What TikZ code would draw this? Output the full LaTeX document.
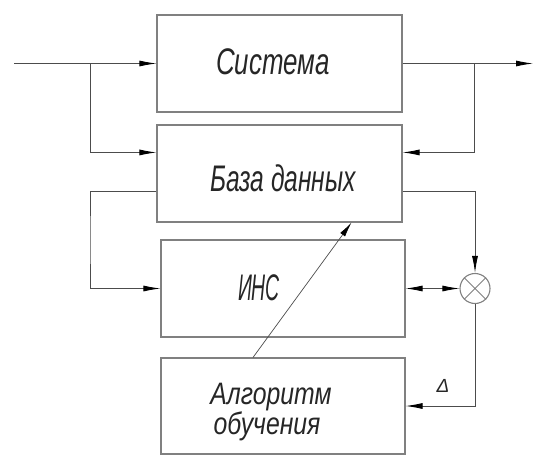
\documentclass[tikz,border=0pt]{standalone}
\usepackage{fontspec}
\newfontfamily\gost[FakeStretch=0.7]{Liberation Sans}
\newfontfamily\gostB[FakeStretch=0.8]{Liberation Sans}
\newfontfamily\gostD{Liberation Sans}
\usetikzlibrary{arrows.meta}
\begin{document}
\begin{tikzpicture}[x=1pt,y=-1pt,
  box/.style={draw=black!50, line width=1.1pt, minimum width=245pt, minimum height=97pt, inner sep=0pt},
  lbl/.style={font=\gost\itshape\fontsize{37}{36}\selectfont, inner sep=0pt, text=black!85, anchor=base},
  albl/.style={lbl, font=\gostB\itshape\fontsize{31}{30}\selectfont},
  conn/.style={draw=black!70, line width=0.9pt},
  tip/.tip={Latex[length=17pt,width=6pt,color=black]},
  arr/.style={conn, -tip},
  cmpstyle/.style={circle, draw=black!50, line width=1.1pt, minimum size=30pt, inner sep=0pt}]
\useasboundingbox (0,0) rectangle (534,457);
% blocks
\node[box] (sys) at (279.5,63.5) {};
\node[box] (db) at (279.5,173.5) {};
\node[box, minimum width=244pt] (ins) at (283,288.5) {};
\node[box, minimum width=244pt, minimum height=96pt] (alg) at (283,406) {};
% texts
\node[lbl] (sysT) at (273,75) {Система};
\node[lbl] (dbT) at (283,191) {\scalebox{0.95}[1]{База данных}};
\node[lbl] (insT) at (259,300) {\scalebox{0.75}[1]{ИНС}};
\node[albl] (algT1) at (271,404) {Алгоритм};
\node[albl] (algT2) at (267,434) {обучения};
\node[lbl, font=\gostD\itshape\fontsize{19}{19}\selectfont] (delta) at (443,392) {Δ};
% comparator
\node[cmpstyle] (cmp) at (475,288.5) {};
\draw[draw=black!50, line width=1pt] (cmp.north west) -- (cmp.south east) (cmp.north east) -- (cmp.south west);
% coordinates
\coordinate (in) at (14,63.5);
\coordinate (brL) at (90,63.5);
\coordinate (out) at (533,63.5);
\coordinate (brR) at (474,63.5);
\coordinate (loopL) at (90,240);
% connectors
\draw[arr] (in) -- (sys.west);
\draw[arr] (brL) |- ([yshift=-28pt]db.north west);
\draw[arr] (sys.east) -- (out);
\draw[arr] (brR) |- ([yshift=-28pt]db.north east);
\draw[arr] ([yshift=-67pt]db.north west) -| (loopL) |- (ins.west);
\draw[arr] ([yshift=-67pt]db.north east) -| (cmp.north);
\draw[conn, tip-tip] (ins.east) -- (cmp.west);
\draw[arr] (cmp.south) |- (alg.east);
\draw[conn, line width=0.7pt, -{Latex[length=15pt,width=6pt,color=black]}] ([xshift=-30pt]alg.north) -- ([xshift=72pt]db.south);
\end{tikzpicture}
\end{document}
